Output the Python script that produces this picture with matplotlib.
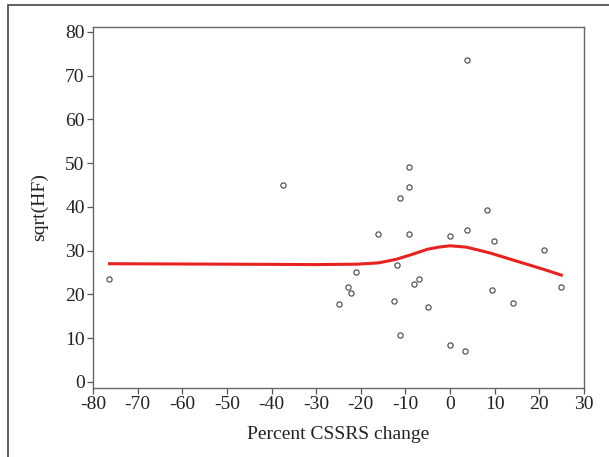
import matplotlib
matplotlib.use('Agg')
import matplotlib.pyplot as plt
from matplotlib.patches import Rectangle

# scatter data: percent CSSRS change vs sqrt(HF)
cssrs_change = [-76.4, -37.5, -25.0, -22.8, -22.2, -21.1, -16.2, -12.6, -12.0,
                -11.2, -11.2, -9.2, -9.2, -9.2, -8.05, -7.0, -5.0, -0.1, -0.1,
                3.4, 3.8, 3.8, 8.2, 9.3, 9.9, 14.2, 21.0, 24.9]
sqrt_hf = [23.4, 45.0, 17.7, 21.7, 20.2, 25.0, 33.7, 18.5, 26.8,
           42.1, 10.8, 49.2, 44.6, 33.9, 22.4, 23.4, 17.0, 33.3, 8.4,
           7.0, 73.6, 34.7, 39.3, 21.1, 32.3, 18.1, 30.1, 21.7]

# smoothed (loess) fit
fit_x = [-76.3, -50, -30, -20.8, -16.0, -12.1, -8.6, -5.1, -2.5, 0.0, 3.6, 8.8, 14.9, 21.0, 24.9]
fit_y = [27.0, 26.9, 26.8, 26.9, 27.2, 28.0, 29.1, 30.3, 30.8, 31.1, 30.8, 29.5, 27.6, 25.7, 24.4]

xticks = list(range(-80, 31, 10))
yticks = list(range(0, 81, 10))

plt.rcParams['font.family'] = ['Liberation Serif', 'DejaVu Serif']
plt.rcParams['axes.unicode_minus'] = False

fig = plt.figure(figsize=(6.09, 4.57), dpi=100)
ax = fig.add_axes([93/609, 1-388/457, (584-93)/609, (388-27)/457])

ax.plot(fit_x, fit_y, color='#e8221f', lw=2.2, zorder=2, solid_joinstyle='round')
ax.scatter(cssrs_change, sqrt_hf, s=14, facecolors='white', edgecolors='#555555',
           linewidths=0.9, zorder=3)

ax.set_xlim(-80, 30)
ax.set_ylim(-1.4, 81.1)
ax.set_xticks(xticks)
ax.set_yticks(yticks)
ax.tick_params(labelsize=14, length=4, width=0.9, color='#555555', labelcolor='#222222', pad=2)
for s in ax.spines.values():
    s.set_color('#666666')
    s.set_linewidth(1.0)

ax.set_xlabel('Percent CSSRS change', fontsize=14, color='#222222', labelpad=9)
ax.set_ylabel('sqrt(HF)', fontsize=14, color='#222222', labelpad=12)

# outer frame
fig.patches.append(Rectangle((8/609, -0.01), 1.1, 1 - 5/457 + 0.01, transform=fig.transFigure,
                             fill=False, edgecolor='#444444', lw=1.2))

fig.savefig('out.png', dpi=100)
